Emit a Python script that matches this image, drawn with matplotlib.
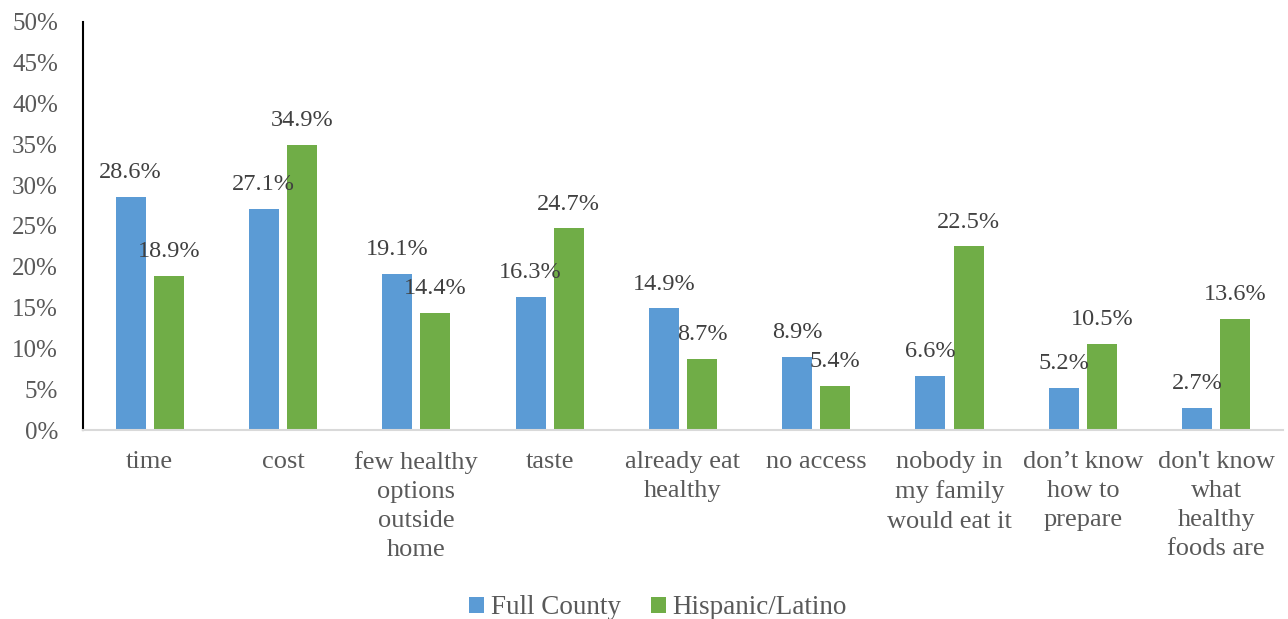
import numpy as np
import matplotlib.pyplot as plt

categories = ['time', 'cost', 'few healthy\noptions\noutside\nhome', 'taste',
              'already eat\nhealthy', 'no access', 'nobody in\nmy family\nwould eat it',
              'don\u2019t know\nhow to\nprepare', "don't know\nwhat\nhealthy\nfoods are"]
full_county = [28.6, 27.1, 19.1, 16.3, 14.9, 8.9, 6.6, 5.2, 2.7]
hispanic = [18.9, 34.9, 14.4, 24.7, 8.7, 5.4, 22.5, 10.5, 13.6]
yticks = [0, 5, 10, 15, 20, 25, 30, 35, 40, 45, 50]

plt.rcParams['font.family'] = ['Liberation Serif', 'DejaVu Serif']

fig = plt.figure(figsize=(12.88, 6.19), dpi=100)
ax = fig.add_axes([0.0644, 0.3053, 0.9316, 0.6592])

x = np.arange(len(categories))
w = 0.225
off = 0.143
blue = '#5B9BD5'
green = '#70AD47'
b1 = ax.bar(x - off, full_county, w, color=blue, label='Full County')
b2 = ax.bar(x + off, hispanic, w, color=green, label='Hispanic/Latino')

# value labels above each bar
for bars, vals in [(b1, full_county), (b2, hispanic)]:
    for b, v in zip(bars, vals):
        ax.annotate(f'{v:.1f}%', (b.get_x() + b.get_width() / 2, v),
                    xytext=(0, 10), textcoords='offset points',
                    ha='center', va='bottom', fontsize=17.5, color='#404040')

ax.set_xlim(-0.5, len(categories) - 0.5)
ax.set_ylim(0, 50)
ax.set_yticks(yticks)
ax.set_yticklabels([f'{t}%' for t in yticks], fontsize=18, color='#595959')
ax.set_xticks(x)
ax.set_xticklabels(categories, fontsize=19, color='#595959', linespacing=1.42, va='top')
ax.tick_params(axis='both', length=0)
ax.tick_params(axis='y', pad=18)
ax.tick_params(axis='x', pad=15)

for s in ['top', 'right']:
    ax.spines[s].set_visible(False)
ax.spines['left'].set_color('black')
ax.spines['left'].set_linewidth(1.5)
ax.spines['bottom'].set_color('#D9D9D9')
ax.spines['bottom'].set_linewidth(1.5)

leg = fig.legend(loc='center', bbox_to_anchor=(0.511, 0.018), ncol=2, frameon=False,
                 fontsize=19.5, handlelength=0.55, handleheight=0.55, handletextpad=0.25,
                 columnspacing=1.1)
for t in leg.get_texts():
    t.set_color('#595959')

fig.savefig('out.png', dpi=100)
